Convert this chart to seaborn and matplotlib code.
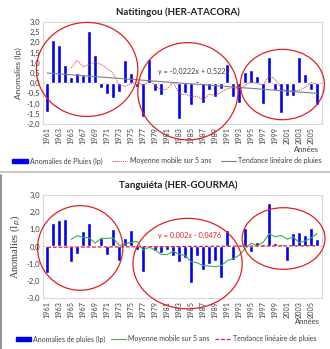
import numpy as np
import pandas as pd
import matplotlib
matplotlib.use("Agg")
import matplotlib.pyplot as plt
import seaborn as sns
from matplotlib.patches import Ellipse, Patch
from matplotlib.lines import Line2D

# ---------------- data ----------------
years = list(range(1961, 2007))

nati_ip = [-1.40, 2.10, 1.89, 0.90, 0.28, 0.49, 0.38, 2.58, 1.38, -0.25,
           -0.51, -0.72, -0.42, 1.12, 0.48, -0.20, -1.68, 1.17, -0.39, -0.59,
           0.07, 0.02, -1.76, -0.48, -1.08, 0.12, -0.95, -0.35, -0.70, -0.30,
           0.95, -0.70, -0.95, 0.55, 0.64, 0.37, -1.02, 1.28, -0.32, -1.47,
           -0.63, -0.62, 1.28, 0.47, -0.32, -1.05]

tang_ip = [-1.56, 1.38, 1.54, 1.58, -0.88, -0.45, 0.88, 1.38, 0.05, 0.52,
           -0.47, 1.02, -0.82, 0.49, 0.98, -0.20, -1.46, -0.05, -0.25, -0.38,
           -0.20, -0.53, -0.88, -0.65, -2.15, -0.55, -1.35, -1.00, -0.85, -1.85,
           0.95, -0.80, 0.00, 1.10, -0.30, 0.25, 0.15, 2.52, 0.20, 0.12,
           -0.85, 0.80, 0.85, 0.65, 1.05, 0.42]

nati_trend = (-0.0222, 0.5229)   # y = a*x + b, x = 1..46
tang_trend = (0.002, -0.0476)

tick_years = list(range(1961, 2006, 2))

# ---------------- style ----------------
sns.set_theme(style="white")
plt.rcParams["font.family"] = ["Lato", "DejaVu Sans"]

W, H = 330, 349
fig = plt.figure(figsize=(W / 100, H / 100), dpi=100)
fig.patch.set_facecolor("white")

def fx(px):
    return px / W

def fy(py):
    return 1 - py / H

BLUE = "#0000f0"
RED = "#e02020"
GRAY_TXT = "#404040"


def make_panel(ax, vals, trend, ylim, ystep, ma_style, tr_style, ellipses,
               eq_text, eq_pos, eq_color):
    df = pd.DataFrame({"Année": years, "Ip": vals})
    df["idx"] = np.arange(1, len(years) + 1)
    df["mm5"] = df["Ip"].rolling(5).mean()
    df["trend"] = trend[0] * df["idx"] + trend[1]

    ax.axhline(0, color="#bfbfbf", lw=0.7, zorder=1)
    sns.barplot(data=df, x="Année", y="Ip", native_scale=True, color=BLUE,
                width=0.68, saturation=1, ax=ax, zorder=2)
    sns.lineplot(data=df, x="Année", y="mm5", ax=ax, zorder=3, **ma_style)
    sns.lineplot(data=df, x="Année", y="trend", ax=ax, zorder=3, **tr_style)

    ax.set_xlim(1960.3, 2006.8)
    ax.set_ylim(*ylim)
    yt = np.arange(ylim[0], ylim[1] + 1e-9, ystep)
    ax.set_yticks(yt)
    ax.set_yticklabels([f"{v:.1f}".replace(".", ",") for v in yt],
                       fontsize=5.5, color=GRAY_TXT)
    ax.set_xticks(tick_years)
    ax.set_xticklabels([str(y) for y in tick_years], rotation=90,
                       fontsize=5.2, color=GRAY_TXT)
    ax.tick_params(axis="both", length=0, pad=2)
    ax.set_xlabel("")
    for s in ax.spines.values():
        s.set_color("#d9d9d9")
        s.set_linewidth(0.8)

    for (cx, cy, w, h) in ellipses:
        e = Ellipse((cx, cy), w, h, fill=False, edgecolor=RED, lw=0.9,
                    clip_on=False, zorder=5)
        ax.add_patch(e)

    ax.text(eq_pos[0], eq_pos[1], eq_text, fontsize=5.2, color=eq_color,
            ha="center", va="center", zorder=6)


# ---------------- top panel ----------------
ax1 = fig.add_axes([fx(43), fy(124), fx(322 - 43), (124 - 22) / H])
make_panel(
    ax1, nati_ip, nati_trend, (-2.0, 3.0), 0.5,
    dict(color="#d04040", lw=0.6, linestyle=(0, (1.5, 1))),
    dict(color="#808080", lw=0.8),
    [(1967.65, 0.675, 16.9, 4.61),
     (1984.45, -0.395, 16.7, 4.77),
     (2000.2, -0.065, 14.0, 3.45)],
    "y = -0,0222x + 0,5229", (1985.4, 0.58), "#404040")
ax1.set_ylabel("Anomalies (Ip)", fontsize=6, color=GRAY_TXT, labelpad=3)
fig.text(fx(178), fy(12), "Natitingou (HER-ATACORA)", fontsize=7,
         fontweight="bold", ha="center", va="center", color="#202020")
fig.text(fx(306), fy(150), "Années", fontsize=5.5, ha="center", va="center",
         color=GRAY_TXT)

LEG = dict(frameon=False, fontsize=5.0, handlelength=2.2, handleheight=0.6,
           handletextpad=0.3, labelcolor=GRAY_TXT, borderpad=0.1)

h1 = [Patch(facecolor=BLUE, edgecolor=BLUE),
      Line2D([], [], color="#d04040", lw=0.6, linestyle=(0, (1.5, 1))),
      Line2D([], [], color="#808080", lw=0.8)]
fig.legend(h1, ["Anomalies de Pluies (Ip)", "Moyenne mobile sur 5 ans",
                "Tendance linéaire de pluies"],
           loc="center", bbox_to_anchor=(fx(167), fy(161)), ncol=3,
           columnspacing=1.4, **LEG)

# ---------------- bottom panel ----------------
ax2 = fig.add_axes([fx(43), fy(298), fx(322 - 43), (298 - 195) / H])
make_panel(
    ax2, tang_ip, tang_trend, (-3.0, 3.0), 1.0,
    dict(color="#3cb043", lw=0.8),
    dict(color=RED, lw=0.9, linestyle=(0, (3, 1.5))),
    [(1966.5, -0.085, 14.2, 4.93),
     (1984.4, -0.995, 18.2, 5.27),
     (2000.4, 0.465, 13.8, 3.59)],
    "y = 0,002x - 0,0476", (1984.8, 0.66), RED)
ax2.set_ylabel("Anomalies (I$_p$)", fontsize=7.5, color=GRAY_TXT, labelpad=3,
               family=["Liberation Serif", "DejaVu Serif"])
fig.text(fx(178), fy(185), "Tanguiéta (HER-GOURMA)", fontsize=7,
         fontweight="bold", ha="center", va="center", color="#202020")
fig.text(fx(307), fy(322), "Années", fontsize=5.5, ha="center", va="center",
         color=GRAY_TXT)

h2 = [Patch(facecolor=BLUE, edgecolor=BLUE),
      Line2D([], [], color="#3cb043", lw=0.8),
      Line2D([], [], color=RED, lw=0.9, linestyle=(0, (3, 1.5)))]
fig.legend(h2, ["Anomalies de pluies (Ip)", "Moyenne mobile sur 5 ans",
                "Tendance linéaire de pluies"],
           loc="center", bbox_to_anchor=(fx(166), fy(339)), ncol=3,
           columnspacing=0.8, **LEG)

# panel separators
fig.add_artist(Line2D([0, 1], [fy(172), fy(172)], color="#c8c8c8", lw=1.5,
                      transform=fig.transFigure))
fig.add_artist(Line2D([fx(0.6), fx(0.6)], [fy(175), 0], color="#808080",
                      lw=1.2, transform=fig.transFigure))

fig.savefig("out.png", dpi=100, facecolor="white")
